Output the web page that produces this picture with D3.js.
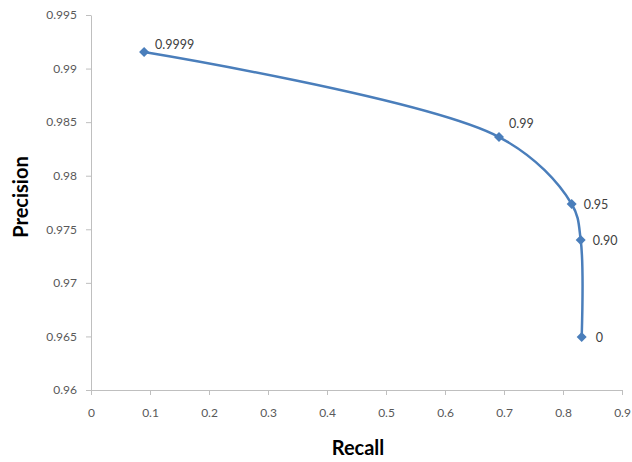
<!DOCTYPE html>
<html>
<head>
<meta charset="utf-8">
<script src="https://cdn.jsdelivr.net/npm/d3@7"></script>
<style>
  html, body { margin: 0; padding: 0; background: #fff; }
  svg { display: block; }
</style>
</head>
<body>
<svg id="chart" width="632" height="462"></svg>
<script>
// ---- data ----
const recall = [0.090, 0.6915, 0.8147, 0.830, 0.8317];
const precision = [0.99155, 0.98361, 0.97736, 0.97400, 0.96495];
const thresholds = ["0.9999", "0.99", "0.95", "0.90", "0"];
const xTicks = [0, 0.1, 0.2, 0.3, 0.4, 0.5, 0.6, 0.7, 0.8, 0.9];
const yTicks = [0.96, 0.965, 0.97, 0.975, 0.98, 0.985, 0.99, 0.995];
const xTitle = "Recall";
const yTitle = "Precision";

// ---- layout / style ----
const labelOffsets = [[11, -7], [10, -13], [12, 1], [12, 1], [14, 1]];
const font = "Lato, 'Open Sans', 'Liberation Sans', sans-serif";
const lineColor = "#4a7ebb";
const axisColor = "#bfbfbf";
const textColor = "#595959";

const svg = d3.select("#chart");
const x = d3.scaleLinear().domain([0, 0.9]).range([91, 622]);
const y = d3.scaleLinear().domain([0.96, 0.995]).range([390, 15]);

const xAxis = d3.axisBottom(x).tickValues(xTicks).tickSize(5).tickSizeOuter(0)
  .tickFormat(d => String(+d.toFixed(1)));
const yAxis = d3.axisLeft(y).tickValues(yTicks).tickSize(5).tickSizeOuter(0)
  .tickFormat(d => String(+d.toFixed(3)));

const gx = svg.append("g").attr("transform", "translate(0,390)").call(xAxis);
const gy = svg.append("g").attr("transform", "translate(91,0)").call(yAxis);

[gx, gy].forEach(g => {
  g.select(".domain").attr("stroke", axisColor).attr("stroke-width", 1);
  g.selectAll(".tick line").attr("stroke", axisColor);
  g.selectAll(".tick text").attr("fill", textColor)
    .style("font-family", font).style("font-size", "12px");
});
gx.selectAll(".tick text").attr("y", 23).attr("dy", "0.35em");
gy.selectAll(".tick text").attr("x", -14);

// line
const pts = recall.map((r, i) => ({ r, p: precision[i], t: thresholds[i] }));
const line = d3.line().x(d => x(d.r)).y(d => y(d.p)).curve(d3.curveCatmullRom.alpha(0.5));
svg.append("path").datum(pts)
  .attr("d", line)
  .attr("fill", "none")
  .attr("stroke", lineColor)
  .attr("stroke-width", 2.5)
  .attr("stroke-linecap", "round");

// markers
svg.selectAll("path.marker").data(pts).enter().append("path")
  .attr("class", "marker")
  .attr("d", d3.symbol().type(d3.symbolDiamond2).size(64))
  .attr("transform", d => `translate(${x(d.r)},${y(d.p)})`)
  .attr("fill", lineColor);

// labels
svg.selectAll("text.lbl").data(pts).enter().append("text")
  .attr("class", "lbl")
  .attr("x", (d, i) => x(d.r) + labelOffsets[i][0])
  .attr("y", (d, i) => y(d.p) + labelOffsets[i][1])
  .attr("dy", "0.35em")
  .attr("fill", "#404040")
  .style("font-family", font).style("font-size", "12.5px")
  .text(d => d.t);

// axis titles
svg.append("text")
  .attr("x", 358).attr("y", 448)
  .attr("dy", "0.35em")
  .attr("text-anchor", "middle")
  .attr("fill", "#000")
  .style("font-family", font).style("font-size", "20px").style("font-weight", "bold")
  .text(xTitle);

svg.append("text")
  .attr("transform", `translate(21,197) rotate(-90)`)
  .attr("dy", "0.35em")
  .attr("text-anchor", "middle")
  .attr("fill", "#000")
  .style("font-family", font).style("font-size", "20px").style("font-weight", "bold")
  .text(yTitle);
</script>
</body>
</html>
